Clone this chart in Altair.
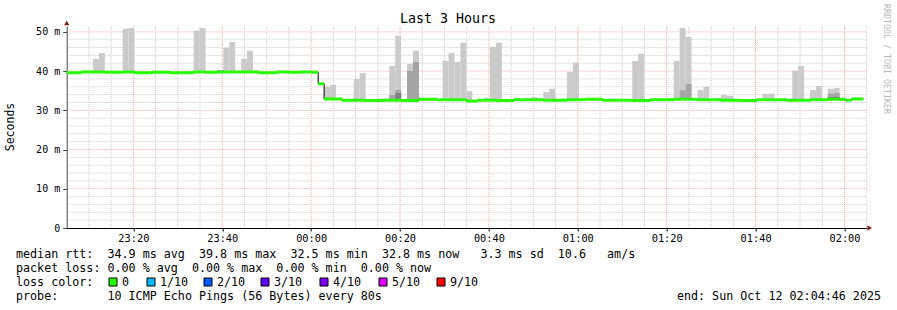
import altair as alt
import pandas as pd
import numpy as np

# ---------------- data ----------------
step_origin = "2025-10-11 23:04:15"   # start of first 80 s step
step_seconds = 80
x_start = "2025-10-11 23:05:00"
x_end = "2025-10-12 02:05:00"

median_ms = [
    39.6, 39.6, 39.6, 39.8, 39.8, 39.8, 39.8, 39.7, 39.7, 39.7,
    39.8, 39.8, 39.6, 39.6, 39.6, 39.7, 39.7, 39.7, 39.6, 39.6,
    39.6, 39.6, 39.8, 39.8, 39.7, 39.7, 39.8, 39.8, 39.8, 39.8,
    39.8, 39.8, 39.8, 39.6, 39.6, 39.6, 39.8, 39.8, 39.7, 39.7,
    39.8, 39.8, 39.7, 36.8, 32.9, 32.9, 32.9, 32.6, 32.6, 32.6,
    32.6, 32.5, 32.5, 32.5, 32.6, 32.6, 32.6, 32.5, 32.5, 32.5,
    32.8, 32.8, 32.8, 32.7, 32.7, 32.7, 32.7, 32.7, 32.4, 32.4,
    32.6, 32.6, 32.6, 32.5, 32.5, 32.5, 32.7, 32.7, 32.7, 32.7,
    32.7, 32.6, 32.6, 32.6, 32.6, 32.7, 32.7, 32.7, 32.8, 32.8,
    32.8, 32.6, 32.6, 32.6, 32.6, 32.6, 32.5, 32.5, 32.5, 32.7,
    32.7, 32.7, 32.7, 32.8, 32.8, 32.8, 32.8, 32.7, 32.7, 32.7,
    32.7, 32.6, 32.6, 32.6, 32.5, 32.5, 32.5, 32.7, 32.7, 32.7,
    32.7, 32.7, 32.6, 32.6, 32.6, 32.6, 32.7, 32.7, 32.7, 32.8,
    32.8, 32.8, 32.6, 32.9, 32.9,
]

smoke_max_ms = [
    39.9, 39.9, 39.9, 40.1, 40.1, 43.1, 44.6, 40.0, 39.9, 40.0,
    50.8, 51.0, 39.9, 39.9, 40.0, 40.0, 39.9, 39.9, 39.9, 39.9,
    39.9, 40.0, 50.3, 51.0, 40.0, 40.0, 40.3, 45.9, 47.4, 40.1,
    43.1, 45.2, 40.1, 39.9, 39.9, 39.9, 40.1, 40.0, 40.0, 39.9,
    40.1, 40.0, 39.9, 37.0, 36.0, 36.5, 33.1, 32.8, 32.8, 38.0,
    39.5, 32.9, 32.9, 33.0, 33.0, 41.3, 49.0, 32.8, 41.8, 45.2,
    33.2, 33.0, 33.0, 32.9, 42.6, 44.6, 42.3, 47.2, 34.9, 32.6,
    32.9, 33.2, 46.2, 47.2, 32.7, 32.9, 33.0, 32.9, 33.2, 33.4,
    33.0, 34.7, 35.5, 32.8, 33.0, 39.8, 42.1, 33.0, 33.0, 32.9,
    33.0, 32.8, 32.8, 32.9, 32.8, 32.8, 42.6, 44.4, 32.9, 32.9,
    32.9, 32.9, 33.0, 42.6, 51.0, 48.7, 32.9, 35.2, 36.0, 32.9,
    33.1, 33.9, 33.7, 32.8, 32.8, 32.7, 32.9, 32.9, 34.2, 34.2,
    32.9, 32.9, 32.9, 40.1, 41.3, 32.9, 35.2, 36.2, 32.9, 35.5,
    35.7, 33.0, 32.9, 33.2, 33.2,
]

mid_steps = [26, 55, 56, 58, 59, 104, 105, 129, 130]
mid_top_ms = [40.3, 33.9, 35.2, 40.0, 42.3, 35.1, 36.7, 34.2, 34.4]
dark_steps = [56, 129, 130]
dark_top_ms = [34.4, 33.4, 33.4]

major_ticks = ["2025-10-11 23:20", "2025-10-11 23:40", "2025-10-12 00:00",
               "2025-10-12 00:20", "2025-10-12 00:40", "2025-10-12 01:00",
               "2025-10-12 01:20", "2025-10-12 01:40", "2025-10-12 02:00"]
y_major = [10, 20, 30, 40, 50]
y_labels = [0, 10, 20, 30, 40, 50]
y_top = 51.5

loss_labels = ["0", "1/10", "2/10", "3/10", "4/10", "5/10", "9/10"]
loss_colors = ["#26ff00", "#00b8ff", "#0059ff", "#5e00ff", "#7e00ff", "#dd00ff", "#ff0000"]

row1 = "median rtt:  34.9 ms avg  39.8 ms max  32.5 ms min  32.8 ms now   3.3 ms sd  10.6   am/s"
row2 = "packet loss: 0.00 % avg  0.00 % max  0.00 % min  0.00 % now"
row3 = "loss color:"
row4a = "probe:       10 ICMP Echo Pings (56 Bytes) every 80s"
row4b = "end: Sun Oct 12 02:04:46 2025"
title_text = "Last 3 Hours"
y_title = "Seconds"
side_text = "RRDTOOL / TOBI OETIKER"

# ---------------- frames ----------------
n = len(median_ms)
t0 = pd.Timestamp(step_origin) + pd.to_timedelta(np.arange(n) * step_seconds, unit="s")
t1 = t0 + pd.Timedelta(seconds=step_seconds)
steps = pd.DataFrame({"t0": t0, "t1": t1, "med": median_ms, "hi": smoke_max_ms})
mid = pd.DataFrame({"t0": t0[mid_steps], "t1": t1[mid_steps],
                    "med": [median_ms[i] for i in mid_steps], "hi": mid_top_ms})
dark = pd.DataFrame({"t0": t0[dark_steps], "t1": t1[dark_steps],
                     "med": [median_ms[i] for i in dark_steps], "hi": dark_top_ms})
line_df = pd.concat([steps[["t0", "med"]],
                     pd.DataFrame({"t0": [t1[-1]], "med": [median_ms[-1]]})], ignore_index=True)

grid_t = pd.date_range("2025-10-11 23:10", "2025-10-12 02:05", freq="5min")
major_t = pd.to_datetime(major_ticks)
minor_vt = pd.DataFrame({"t": [t for t in grid_t if t not in set(major_t)]})
major_vt = pd.DataFrame({"t": major_t})
minor_hy = pd.DataFrame({"y": [v for v in np.arange(2, 51, 2) if v % 10 != 0]})
major_hy = pd.DataFrame({"y": y_major})


def dt(s):
    ts = pd.Timestamp(s)
    return alt.DateTime(year=ts.year, month=ts.month, date=ts.day,
                        hours=ts.hour, minutes=ts.minute, seconds=ts.second)


FONT = "DejaVu Sans Mono"
xscale = alt.Scale(domain=[dt(x_start), dt(x_end)], nice=False)
yscale = alt.Scale(domain=[0, y_top], nice=False, zero=False)

X = lambda f: alt.X(f, type="temporal", scale=xscale,
                    axis=alt.Axis(values=[dt(s) for s in major_ticks], format="%H:%M",
                                  title=None, grid=False, tickSize=3, labelPadding=2,
                                  labelFont=FONT, labelFontSize=10.3, labelColor="#000",
                                  domainColor="#000", tickColor="#000"))
Y = lambda f: alt.Y(f, type="quantitative", scale=yscale,
                    axis=alt.Axis(values=y_labels, title=None, grid=False, tickSize=4,
                                  labelPadding=3, labelFont=FONT, labelFontSize=10,
                                  labelColor="#000", domainColor="#444", tickColor="#444",
                                  labelExpr="datum.value == 0 ? '0' : datum.value + ' m'"))

g_minor_v = alt.Chart(minor_vt).mark_rule(color="#cccccc", strokeDash=[1, 1], strokeWidth=1).encode(x=X("t"))
g_major_v = alt.Chart(major_vt).mark_rule(color="#f2a8a8", strokeDash=[1, 1], strokeWidth=1).encode(x=X("t"))
g_minor_h = alt.Chart(minor_hy).mark_rule(color="#cccccc", strokeDash=[1, 1], strokeWidth=1).encode(y=Y("y"))
g_major_h = alt.Chart(major_hy).mark_rule(color="#f2a8a8", strokeDash=[1, 1], strokeWidth=1).encode(y=Y("y"))

smoke = alt.Chart(steps).mark_rect(color="#cacaca", clip=True).encode(
    x=X("t0"), x2="t1", y=Y("hi"), y2="med")
smoke_mid = alt.Chart(mid).mark_rect(color="#a4a4a4", clip=True).encode(
    x=X("t0"), x2="t1", y=Y("hi"), y2="med")
smoke_dark = alt.Chart(dark).mark_rect(color="#7e7e7e", clip=True).encode(
    x=X("t0"), x2="t1", y=Y("hi"), y2="med")

black = alt.Chart(line_df).mark_line(interpolate="step-after", color="#000", strokeWidth=1,
                                     clip=True).encode(x=X("t0"), y=Y("med"))
green = alt.Chart(steps).mark_rule(color="#26ff00", strokeWidth=3, clip=True).encode(
    x=X("t0"), x2="t1", y=Y("med"))

arrow_x = alt.Chart(pd.DataFrame({"t": [pd.Timestamp(x_end)], "y": [0]})).mark_point(
    shape="triangle-right", filled=True, color="#7f1a1a", size=28, xOffset=3, opacity=1).encode(
    x=X("t"), y=Y("y"))
arrow_y = alt.Chart(pd.DataFrame({"t": [pd.Timestamp(x_start)], "y": [y_top]})).mark_point(
    shape="triangle-up", filled=True, color="#7f1a1a", size=28, yOffset=-3, opacity=1).encode(
    x=X("t"), y=Y("y"))

one = pd.DataFrame({"a": [0]})
NB = "\u00a0"


def txt(s, x, y, size=11.7, align="left", angle=0, color="#000"):
    return alt.Chart(one).mark_text(text=s.replace(" ", NB), font=FONT, fontSize=size,
                                    align=align, baseline="middle", angle=angle,
                                    color=color).encode(x=alt.value(x), y=alt.value(y))


OX, OY = 66.7, 26  # plot origin in page pixels
texts = [
    txt(title_text, 448 - OX, 19 - OY, size=13.3, align="center"),
    txt(y_title, 11 - OX, 127 - OY, size=11.5, align="center", angle=270),
    txt(side_text, 886 - OX, 59 - OY, size=8.3, align="center", angle=90, color="#b8b8b8"),
    txt(row1, 16 - OX, 254 - OY),
    txt(row2, 16 - OX, 268 - OY),
    txt(row3, 16 - OX, 282 - OY),
    txt(row4a, 16 - OX, 296 - OY),
    txt(row4b, 881 - OX, 296 - OY, align="right"),
]

box_px = [113, 151, 208, 265, 324, 383, 441]
leg = pd.DataFrame({"lab": loss_labels, "col": loss_colors,
                    "bx": [b - OX for b in box_px], "tx": [b - OX + 9 for b in box_px]})
leg_boxes = alt.Chart(leg).mark_square(size=64, stroke="#000", strokeWidth=1, opacity=1).encode(
    x=alt.X("bx:Q", scale=None), y=alt.value(282 - OY),
    fill=alt.Fill("col:N", scale=None))
leg_text = alt.Chart(leg).mark_text(font=FONT, fontSize=11.7, align="left", baseline="middle",
                                    color="#000").encode(
    x=alt.X("tx:Q", scale=None), y=alt.value(282 - OY), text="lab:N")

chart = alt.layer(
    g_minor_v, g_minor_h, g_major_v, g_major_h,
    smoke, smoke_mid, smoke_dark, black, green, arrow_x, arrow_y,
    *texts, leg_boxes, leg_text,
).properties(
    width=800, height=202,
    autosize=alt.AutoSizeParams(type="none"),
    padding={"left": OX, "top": OY, "right": 897 - OX - 800, "bottom": 310 - OY - 202},
    background="#ffffff",
).configure_view(stroke=None)

chart.save("out.html", embed_options={"renderer": "svg", "actions": False})
